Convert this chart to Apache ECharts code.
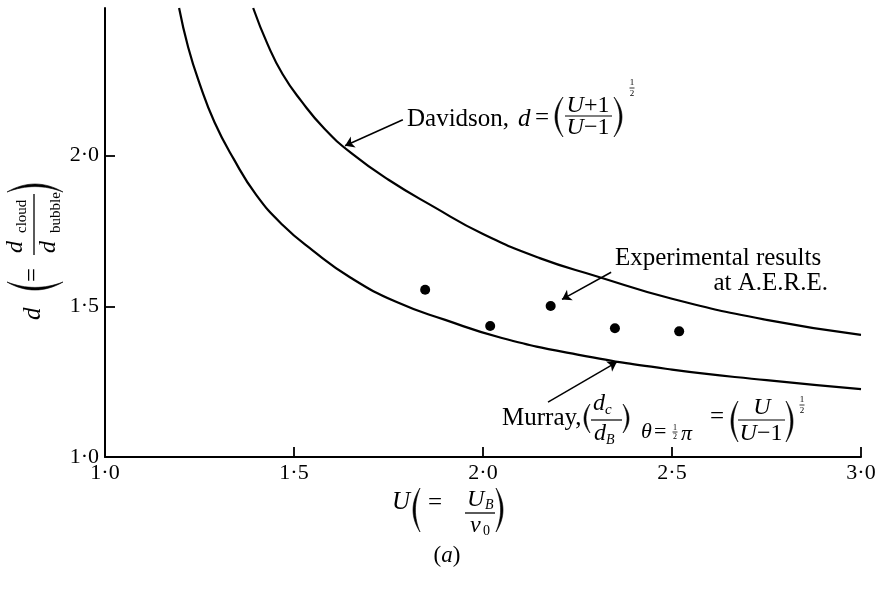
<!DOCTYPE html>
<html>
<head>
<meta charset="utf-8">
<script src="https://cdn.jsdelivr.net/npm/echarts@6/dist/echarts.min.js"></script>
<style>
  html, body { margin: 0; padding: 0; background: #fff; }
  #chart { width: 878px; height: 591px; }
</style>
</head>
<body>
<div id="chart"></div>
<script>
// Cloud-to-bubble diameter ratio d against the bubble velocity ratio U.

// Davidson's theory curve
const davidsonU = [1.392, 1.43, 1.47, 1.52, 1.58, 1.65, 1.75, 1.87, 2.00, 2.15, 2.30, 2.50, 2.75, 3.00];
const davidsonD = [2.490, 2.37, 2.27, 2.18, 2.09, 2.01, 1.92, 1.83, 1.74, 1.66, 1.60, 1.525, 1.455, 1.405];

// Murray's theory curve
const murrayU = [1.196, 1.22, 1.25, 1.29, 1.34, 1.40, 1.47, 1.55, 1.65, 1.77, 1.90, 2.05, 2.25, 2.50, 2.75, 3.00];
const murrayD = [2.490, 2.36, 2.24, 2.11, 1.99, 1.87, 1.77, 1.685, 1.595, 1.515, 1.455, 1.395, 1.34, 1.29, 1.255, 1.225];

// Experimental results at A.E.R.E.
const expU = [1.847, 2.019, 2.179, 2.349, 2.519];
const expD = [1.555, 1.435, 1.501, 1.427, 1.417];

// Tick positions
const xTicks = [1.0, 1.5, 2.0, 2.5, 3.0];
const yTicks = [1.0, 1.5, 2.0];

// Annotation arrows: [tail U, tail d, head U, head d]
const arrowDavidson = [1.788, 2.119, 1.635, 2.033];
const arrowExp = [2.339, 1.613, 2.209, 1.523];
const arrowMurray = [2.172, 1.182, 2.354, 1.315];

const SERIF = "'Liberation Serif', 'Times New Roman', serif";
const INK = '#000';

function pairs(xs, ys) { return xs.map((x, i) => [x, ys[i]]); }
function tickText(v) { return Number(v).toFixed(1).replace('.', '\u00B7'); }

function T(x, y, text, size, o) {
  o = o || {};
  const st = {
    text: text, fontSize: size, fontFamily: SERIF,
    fontStyle: o.it ? 'italic' : 'normal', fontWeight: 'normal',
    fill: INK, align: o.align || 'left', verticalAlign: 'middle',
    textAlign: o.align || 'left', textVerticalAlign: 'middle'
  };
  if (o.rich) st.rich = o.rich;
  return { type: 'text', x: x, y: y, silent: true, z: 10, style: st };
}
function bar(x1, x2, y, w) {
  return { type: 'line', silent: true, z: 10, shape: { x1: x1, y1: y, x2: x2, y2: y }, style: { stroke: INK, lineWidth: w || 1.3 } };
}
// Crescent bracket: dir -1 bulges left '(' , dir +1 bulges right ')'
function paren(xEnd, yTop, yBot, bulge, thick, dir) {
  const ym = (yTop + yBot) / 2;
  const co = xEnd + dir * 2 * bulge;
  const ci = xEnd + dir * (2 * bulge - 2 * thick);
  const pts = [];
  const n = 16;
  for (let i = 0; i <= n; i++) {
    const t = i / n, a = (1 - t) * (1 - t), b = 2 * t * (1 - t), c = t * t;
    pts.push([a * xEnd + b * co + c * xEnd, a * yTop + b * ym + c * yBot]);
  }
  for (let i = n; i >= 0; i--) {
    const t = i / n, a = (1 - t) * (1 - t), b = 2 * t * (1 - t), c = t * t;
    pts.push([a * xEnd + b * ci + c * xEnd, a * yTop + b * ym + c * yBot]);
  }
  return {
    type: 'polygon', silent: true, z: 10,
    shape: { points: pts },
    style: { fill: INK, stroke: INK, lineWidth: 0.6 }
  };
}
function half(x, y, size) {
  const s = size || 9;
  return [T(x, y - s * 0.55, '1', s, { align: 'center' }), bar(x - 2.5, x + 2.5, y, 0.8), T(x, y + s * 0.6, '2', s, { align: 'center' })];
}
const italicRich = { i: { fontStyle: 'italic', fontSize: 24, fontFamily: SERIF, fill: INK } };

// Davidson, d = ((U+1)/(U−1))^½
const davidsonLabel = [
  T(407, 119, 'Davidson,', 25),
  T(518, 119, 'd', 25, { it: true }),
  T(535, 118, '=', 25),
  paren(563, 97, 137, 8, 2.2, -1),
  T(588, 106, '{i|U}+1', 24, { align: 'center', rich: italicRich }),
  bar(565, 612, 116, 1.2),
  T(588, 128, '{i|U}\u22121', 24, { align: 'center', rich: italicRich }),
  paren(614, 97, 137, 8, 2.2, 1)
].concat(half(632, 88, 9));

// Experimental results at A.E.R.E.
const expLabel = [
  T(615, 258, 'Experimental results', 25),
  T(828, 283, 'at A.E.R.E.', 25, { align: 'right' })
];

// Murray, (dc/dB) θ=½π = (U/(U−1))^½
const murrayLabel = [
  T(502, 418, 'Murray,', 25),
  paren(590, 404, 433, 6, 2, -1),
  T(593, 404, 'd', 24, { it: true }),
  T(605, 410, 'c', 15, { it: true }),
  bar(591, 622, 420, 1.2),
  T(594, 434, 'd', 24, { it: true }),
  T(606, 440, 'B', 14, { it: true }),
  paren(623, 404, 433, 6, 2, 1),
  T(641, 432, '\u03B8', 22, { it: true }),
  T(654, 432, '=', 22)
].concat(half(675, 432, 8)).concat([
  T(681, 434, '\u03C0', 22, { it: true }),
  T(710, 417, '=', 25),
  paren(738, 401, 442, 7, 2.2, -1),
  T(762, 408, 'U', 24, { it: true, align: 'center' }),
  bar(738, 785, 420, 1.2),
  T(761, 434, '{i|U}\u22121', 24, { align: 'center', rich: italicRich }),
  paren(786, 401, 442, 7, 2.2, 1)
]).concat(half(802, 405, 9));

// x-axis title U (= U_B / v_0) and panel mark
const xTitle = [
  T(392, 502, 'U', 25, { it: true }),
  paren(420, 488, 532, 7, 2.4, -1),
  T(428, 503, '=', 25),
  T(467, 500, 'U', 24, { it: true }),
  T(485, 505, 'B', 14, { it: true }),
  bar(465, 495, 513, 1.3),
  T(470, 526, 'v', 24, { it: true }),
  T(483, 531, '0', 14),
  paren(496, 488, 532, 7, 2.4, 1),
  T(447, 556, '({i|a})', 23, { align: 'center', rich: { i: { fontStyle: 'italic', fontSize: 23, fontFamily: SERIF, fill: INK } } })
];

// y-axis title d (= d_cloud / d_bubble), rotated to read upwards
const yTitle = {
  type: 'group', x: 35, y: 320, rotation: Math.PI / 2, silent: true,
  children: [
    T(0, -2, 'd', 25, { it: true }),
    paren(38, -28, 28, 8, 2.6, -1),
    T(38, -2, '=', 25),
    T(67, -19, 'd', 24, { it: true }),
    T(87, -13, 'cloud', 15),
    bar(65, 126, -1, 1.3),
    T(67, 14, 'd', 24, { it: true }),
    T(87, 21, 'bubble', 15),
    paren(128, -28, 28, 8, 2.6, 1)
  ]
};

function arrowLine(a) {
  return [{ coord: [a[0], a[1]], symbol: 'none' }, { coord: [a[2], a[3]], symbol: 'arrow' }];
}

const option = {
  animation: false,
  backgroundColor: '#fff',
  grid: { left: 105, right: 17, top: 8, bottom: 134, outerBoundsMode: 'none' },
  xAxis: {
    type: 'value', min: 1.0, max: 3.0, interval: 0.5,
    axisLine: { show: true, onZero: false, lineStyle: { color: INK, width: 2 } },
    axisTick: { show: true, inside: true, length: 10, customValues: xTicks, lineStyle: { color: INK, width: 1.8 } },
    axisLabel: { customValues: xTicks, formatter: tickText, margin: 5, fontFamily: SERIF, fontSize: 22, color: INK },
    splitLine: { show: false }
  },
  yAxis: {
    type: 'value', min: 1.0, max: 2.49, interval: 0.5,
    axisLine: { show: true, onZero: false, lineStyle: { color: INK, width: 2 } },
    axisTick: { show: true, inside: true, length: 10, customValues: yTicks, lineStyle: { color: INK, width: 1.8 } },
    axisLabel: { customValues: yTicks, formatter: tickText, margin: 6, fontFamily: SERIF, fontSize: 22, color: INK },
    splitLine: { show: false }
  },
  series: [
    {
      name: 'Davidson', type: 'line', data: pairs(davidsonU, davidsonD),
      smooth: 0.5, showSymbol: false, silent: true,
      lineStyle: { color: INK, width: 2.2 }
    },
    {
      name: 'Murray', type: 'line', data: pairs(murrayU, murrayD),
      smooth: 0.5, showSymbol: false, silent: true,
      lineStyle: { color: INK, width: 2.2 }
    },
    {
      name: 'Experimental results at A.E.R.E.', type: 'scatter', data: pairs(expU, expD),
      symbol: 'circle', symbolSize: 10, silent: true,
      itemStyle: { color: INK, opacity: 1 },
      markLine: {
        silent: true, symbolSize: 9,
        lineStyle: { color: INK, width: 1.5, type: 'solid', opacity: 1 },
        label: { show: false },
        data: [arrowLine(arrowDavidson), arrowLine(arrowExp), arrowLine(arrowMurray)]
      }
    }
  ],
  graphic: [].concat(davidsonLabel, expLabel, murrayLabel, xTitle, [yTitle])
};

const chart = echarts.init(document.getElementById('chart'), null, { renderer: 'canvas' });
chart.setOption(option);
</script>
</body>
</html>
